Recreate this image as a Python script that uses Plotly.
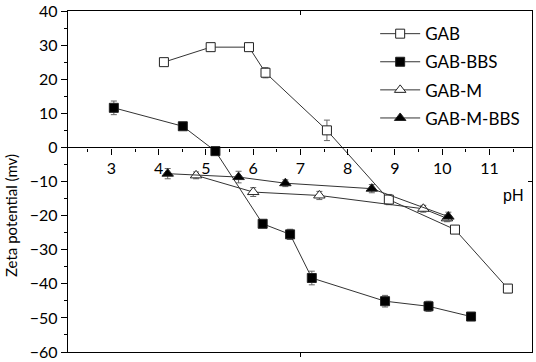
import plotly.graph_objects as go

# ---- data ----
gab_x = [4.11, 5.10, 5.91, 6.26, 7.56, 8.87, 10.27, 11.39]
gab_y = [25.0, 29.4, 29.4, 21.9, 5.0, -15.3, -24.1, -41.4]
gab_err = [1.0, 0.8, 0.8, 1.5, 3.0, 1.5, 1.0, 1.2]

bbs_x = [3.05, 4.51, 5.20, 6.20, 6.78, 7.24, 8.79, 9.71, 10.61]
bbs_y = [11.6, 6.2, -1.1, -22.4, -25.5, -38.3, -45.1, -46.6, -49.6]
bbs_err = [2.0, 0.6, 0.6, 0.8, 1.5, 2.0, 1.7, 1.5, 0.5]

m_x = [4.79, 6.00, 7.40, 9.60, 10.10]
m_y = [-8.2, -13.1, -14.1, -18.0, -20.8]
m_err = [1.0, 1.3, 1.2, 1.0, 1.0]

mb_x = [4.19, 5.69, 6.68, 8.51, 10.13]
mb_y = [-7.7, -8.7, -10.5, -12.1, -20.3]
mb_err = [1.5, 1.7, 1.0, 1.2, 1.3]

x_range = [2.08, 11.9]
y_range = [-60, 40]

FONT = "Lato"
LINE = "#333333"
ERR = "#666666"


def series(name, x, y, err, symbol, fill):
    return go.Scatter(
        x=x, y=y, name=name, mode="lines+markers", legendgroup=name,
        line=dict(color=LINE, width=1),
        marker=dict(symbol=symbol, size=9 if "square" in symbol else 10,
                    color=fill, line=dict(color="#222222", width=1)),
        error_y=dict(type="data", array=err, color=ERR, thickness=1, width=3),
        xaxis="x", yaxis="y",
    )


fig = go.Figure()
fig.add_trace(series("GAB", gab_x, gab_y, gab_err, "square", "white"))
fig.add_trace(series("GAB-BBS", bbs_x, bbs_y, bbs_err, "square", "black"))
fig.add_trace(series("GAB-M", m_x, m_y, m_err, "triangle-up", "white"))
fig.add_trace(series("GAB-M-BBS", mb_x, mb_y, mb_err, "triangle-up", "black"))

# empty traces so the frame axes get drawn
for xa, ya in [("x2", "y"), ("x3", "y"), ("x", "y2")]:
    fig.add_trace(go.Scatter(x=[], y=[], xaxis=xa, yaxis=ya, showlegend=False,
                             hoverinfo="skip"))

zero_pos = (0 - y_range[0]) / (y_range[1] - y_range[0])

fig.update_layout(
    width=536, height=362,
    margin=dict(l=68, r=4, t=11, b=10, autoexpand=False),
    paper_bgcolor="white", plot_bgcolor="white",
    font=dict(family=FONT, size=16, color="black"),
    showlegend=True,
    legend=dict(x=0.662, y=0.985, xanchor="left", yanchor="top",
                bgcolor="rgba(0,0,0,0)", font=dict(family=FONT, size=17),
                tracegroupgap=3, traceorder="grouped", itemwidth=40),
    xaxis=dict(range=x_range, anchor="free", position=zero_pos, side="bottom",
               automargin=False,
               showline=True, linecolor="black", linewidth=1.3,
               ticks="outside", ticklen=6, tickcolor="black", tickwidth=1.3,
               tick0=0, dtick=1, showgrid=False, zeroline=False,
               minor=dict(dtick=0.5, ticks="outside", ticklen=3,
                          tickcolor="black", tickwidth=1.3, showgrid=False),
               tickfont=dict(family=FONT, size=16)),
    xaxis2=dict(range=x_range, overlaying="x", anchor="y", side="bottom",
                automargin=False,
                showline=True, linecolor="black", linewidth=1.3,
                ticks="outside", ticklen=4, tickcolor="black",
                tickvals=[7], showticklabels=False, showgrid=False,
                zeroline=False),
    xaxis3=dict(range=x_range, overlaying="x", anchor="y", side="top",
                automargin=False,
                showline=True, linecolor="black", linewidth=1.3,
                ticks="inside", ticklen=4, tickcolor="black",
                tickvals=[7], showticklabels=False, showgrid=False,
                zeroline=False),
    yaxis=dict(range=y_range, automargin=False,
               showline=True, linecolor="black", linewidth=1.3,
               ticks="outside", ticklen=6, tickcolor="black", tickwidth=1.3,
               dtick=10, showgrid=False, zeroline=False,
               minor=dict(dtick=5, ticks="outside", ticklen=3,
                          tickcolor="black", tickwidth=1.3, showgrid=False),
               tickfont=dict(family=FONT, size=16)),
    yaxis2=dict(range=y_range, overlaying="y", anchor="x", side="right",
                automargin=False,
                showline=True, linecolor="black", linewidth=1.3,
                ticks="inside", ticklen=4, tickcolor="black",
                tickvals=[-10], showticklabels=False, showgrid=False,
                zeroline=False),
)

fig.add_annotation(x=-0.124, y=0.40, xref="paper", yref="paper",
                   text="Zeta potential (mv)", textangle=-90, showarrow=False,
                   xanchor="center", yanchor="middle",
                   font=dict(family=FONT, size=15))
fig.add_annotation(x=11.49, y=-14.1, xref="x", yref="y", text="pH",
                   showarrow=False, font=dict(family="Liberation Sans", size=16))

fig.write_html("out.html", config={"displayModeBar": False},
               post_script="document.body.style.margin='0';"
                           "document.body.style.padding='0';")
